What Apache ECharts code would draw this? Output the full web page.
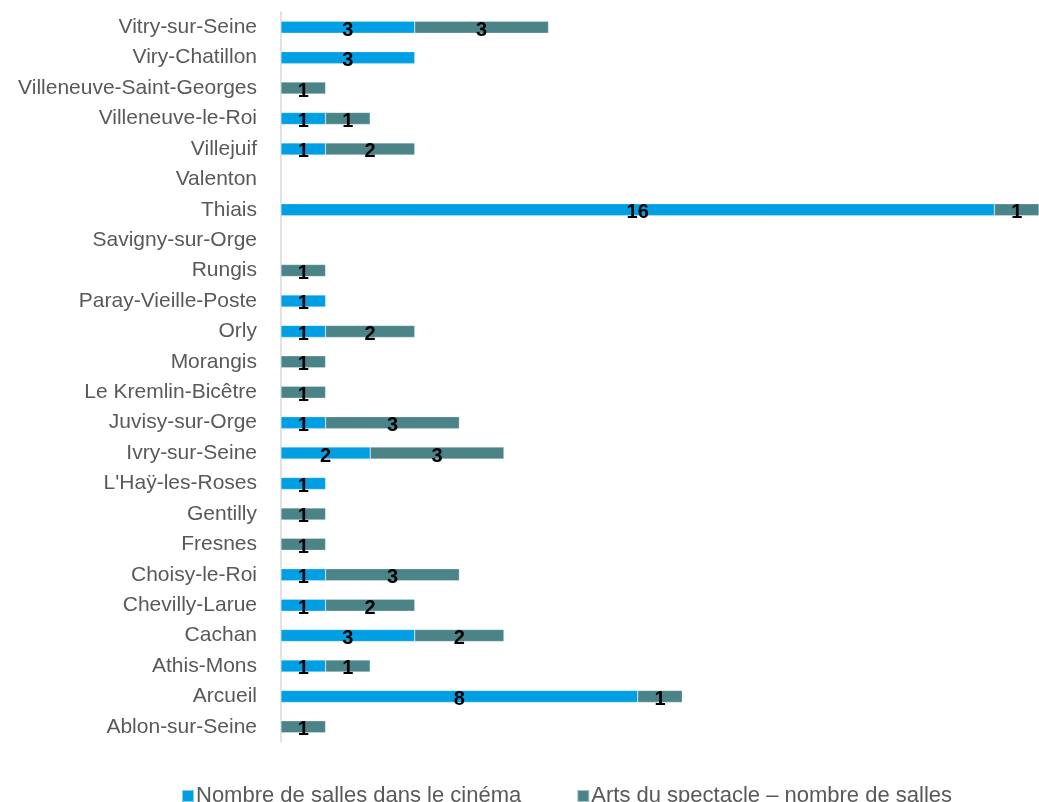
<!DOCTYPE html>
<html>
<head>
<meta charset="utf-8">
<script src="https://cdn.jsdelivr.net/npm/echarts@6/dist/echarts.min.js"></script>
<style>
html,body{margin:0;padding:0;background:#fff;}
#chart{width:1039px;height:802px;}
</style>
</head>
<body>
<div id="chart"></div>
<script>
var categories = ["Ablon-sur-Seine","Arcueil","Athis-Mons","Cachan","Chevilly-Larue","Choisy-le-Roi","Fresnes","Gentilly","L'Haÿ-les-Roses","Ivry-sur-Seine","Juvisy-sur-Orge","Le Kremlin-Bicêtre","Morangis","Orly","Paray-Vieille-Poste","Rungis","Savigny-sur-Orge","Thiais","Valenton","Villejuif","Villeneuve-le-Roi","Villeneuve-Saint-Georges","Viry-Chatillon","Vitry-sur-Seine"];
var cinema = [null,8,1,3,1,1,null,null,1,2,1,null,null,1,1,null,null,16,null,1,1,null,3,3];
var arts   = [1,1,1,2,2,3,1,1,null,3,3,1,1,2,null,1,null,1,null,2,1,1,null,3];
var seriesNames = ["Nombre de salles dans le cinéma","Arts du spectacle – nombre de salles"];

var chart = echarts.init(document.getElementById('chart'), null, {renderer:'canvas'});
var font = "'Liberation Sans', Arial, sans-serif";
var labelCfg = {show:true, position:'inside', color:'#000', fontWeight:'bold', fontSize:20, fontFamily:font, offset:[0,3]};
chart.setOption({
  animation:false,
  grid:{left:281, right:0, top:12, bottom:60, containLabel:false},
  xAxis:{type:'value', min:0, max:17, show:false},
  yAxis:{type:'category', data:categories,
    axisLine:{show:true, lineStyle:{color:'#d9d9d9', width:1.5}},
    axisTick:{show:false},
    axisLabel:{color:'#595959', fontSize:21, fontFamily:font, margin:24}
  },
  legend:{bottom:-10, left:176, itemWidth:12, itemHeight:12, itemGap:55, icon:'rect',
    textStyle:{color:'#595959', fontSize:22, fontFamily:font, padding:[0,0,0,-3]}},
  series:[
    {name:seriesNames[0], type:'bar', stack:'t', data:cinema, barWidth:12,
      itemStyle:{color:'#009FE3', borderColor:'rgba(255,255,255,0.5)', borderWidth:0.5}, label:labelCfg},
    {name:seriesNames[1], type:'bar', stack:'t', data:arts, barWidth:12,
      itemStyle:{color:'#4A8489', borderColor:'rgba(255,255,255,0.5)', borderWidth:0.5}, label:labelCfg}
  ]
});
</script>
</body>
</html>
